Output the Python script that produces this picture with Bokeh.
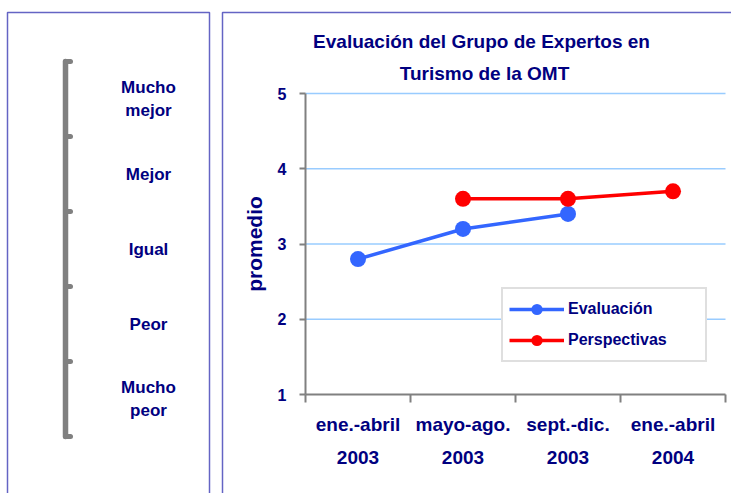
from bokeh.plotting import figure
from bokeh.models import Range1d, LinearAxis, FixedTicker, Legend, LegendItem
from bokeh.core.properties import value
from bokeh.embed import file_html
from bokeh.resources import INLINE

# ---------------- data ----------------
periods = ["ene.-abril\n2003", "mayo-ago.\n2003", "sept.-dic.\n2003", "ene.-abril\n2004"]
evaluacion_periods = ["ene.-abril\n2003", "mayo-ago.\n2003", "sept.-dic.\n2003"]
evaluacion = [2.8, 3.2, 3.4]
perspectivas_periods = ["mayo-ago.\n2003", "sept.-dic.\n2003", "ene.-abril\n2004"]
perspectivas = [3.6, 3.6, 3.7]
y_ticks = [1, 2, 3, 4, 5]
scale_labels = ["Mucho\nmejor", "Mejor", "Igual", "Peor", "Mucho\npeor"]
scale_levels = [4.5, 3.5, 2.5, 1.5, 0.5]
scale_marks = [0, 1, 2, 3, 4, 5]
title_lines = ["Evaluación del Grupo de Expertos en", "Turismo de la OMT"]
series_names = ["Evaluación", "Perspectivas"]

# ---------------- styling / layout (pixels) ----------------
FONT = "Liberation Sans"
NAVY = "#000080"
GRAY = "#808080"
BORDER = "#6464c4"
BLUE = "#3366ff"
RED = "#ff0000"
GRID = "#99ccff"
W, H = 731, 493
CH_L, CH_R, CH_T, CH_B = 305, 725, 93, 394      # chart plot area
SC_X, SC_TOP, SC_BOT, SC_LABEL_X = 65, 61, 436, 148  # scale panel

n = len(periods)
ppx = (CH_R - CH_L) / n
ppy = (CH_B - CH_T) / (y_ticks[-1] - y_ticks[0])
x_start = -CH_L / ppx
x_end = (W - CH_L) / ppx
y_end = y_ticks[-1] + CH_T / ppy
y_start = y_ticks[0] - (H - CH_B) / ppy


def px_x(px):
    return x_start + px / ppx


def px_y(py):
    return y_end - py / ppy


def scale_y(level):
    return px_y(SC_BOT - level * (SC_BOT - SC_TOP) / (len(scale_marks) - 1))


def cat_x(cat):
    return periods.index(cat) + 0.5


p = figure(width=W, height=H, x_range=Range1d(x_start, x_end), y_range=Range1d(y_start, y_end),
           output_backend="svg", toolbar_location=None, min_border=0,
           x_axis_location=None, y_axis_location=None)
p.grid.visible = False
p.outline_line_color = None
p.background_fill_color = "white"
p.border_fill_color = "white"

# ---------------- panel borders ----------------
p.line(x=[px_x(7), px_x(7), px_x(209), px_x(209)], y=[px_y(H + 5), px_y(12), px_y(12), px_y(H + 5)],
       line_color=BORDER, line_width=1.5)
p.line(x=[px_x(222), px_x(222), px_x(W + 5)], y=[px_y(H + 5), px_y(12), px_y(12)],
       line_color=BORDER, line_width=1.5)

# ---------------- left scale panel ----------------
p.segment(x0=px_x(SC_X), y0=scale_y(scale_marks[0]), x1=px_x(SC_X), y1=scale_y(scale_marks[-1]),
          line_width=5.5, line_color=GRAY, line_cap="round")
p.segment(x0=[px_x(SC_X)] * len(scale_marks), y0=[scale_y(m) for m in scale_marks],
          x1=[px_x(SC_X + 5)] * len(scale_marks), y1=[scale_y(m) for m in scale_marks],
          line_width=5, line_color=GRAY, line_cap="round")
p.text(x=[px_x(SC_LABEL_X)] * len(scale_labels), y=[scale_y(v) for v in scale_levels], text=scale_labels,
       text_align="center", text_baseline="middle", text_font=value(FONT),
       text_font_style="bold", text_font_size="17px", text_color=NAVY, text_line_height=1.2)

# ---------------- title ----------------
p.text(x=[px_x(481), px_x(484)], y=[px_y(41), px_y(73)], text=title_lines,
       text_align="center", text_baseline="middle", text_font=value(FONT),
       text_font_style="bold", text_font_size="19px", text_color=NAVY)

# ---------------- grid ----------------
p.segment(x0=0, x1=n, y0=y_ticks[1:], y1=y_ticks[1:], line_color=GRID, line_width=1.5)

# ---------------- axes ----------------
yax = LinearAxis(fixed_location=0, bounds=(y_ticks[0], y_ticks[-1]), ticker=FixedTicker(ticks=y_ticks),
                 axis_line_color=GRAY, axis_line_width=2,
                 major_tick_line_color=GRAY, major_tick_line_width=2,
                 major_tick_out=6, major_tick_in=0, minor_tick_line_color=None,
                 major_label_text_font=FONT, major_label_text_font_style="bold",
                 major_label_text_font_size="16px", major_label_text_color=NAVY,
                 major_label_standoff=13,
                 axis_label="promedio", axis_label_text_font=FONT,
                 axis_label_text_font_style="bold", axis_label_text_font_size="21px",
                 axis_label_text_color=NAVY, axis_label_standoff=9)
p.add_layout(yax, "left")

edge_axis = LinearAxis(fixed_location=y_ticks[0], bounds=(0, n),
                       ticker=FixedTicker(ticks=list(range(n + 1))),
                       axis_line_color=GRAY, axis_line_width=2,
                       major_tick_line_color=GRAY, major_tick_line_width=2,
                       major_tick_out=8, major_tick_in=0, minor_tick_line_color=None,
                       major_label_text_font_size="1px", major_label_text_color=None)
p.add_layout(edge_axis, "below")

label_ticks = [cat_x(c) for c in periods]
cat_axis = LinearAxis(fixed_location=y_ticks[0], ticker=FixedTicker(ticks=label_ticks),
                      major_label_overrides={t: c for t, c in zip(label_ticks, periods)},
                      axis_line_color=None, major_tick_line_color=None, minor_tick_line_color=None,
                      major_tick_out=0, major_tick_in=0,
                      major_label_text_font=FONT, major_label_text_font_style="bold",
                      major_label_text_font_size="19px", major_label_text_color=NAVY,
                      major_label_text_line_height=1.6, major_label_standoff=19)
p.add_layout(cat_axis, "below")

# ---------------- series ----------------
ex = [cat_x(c) for c in evaluacion_periods]
px_ = [cat_x(c) for c in perspectivas_periods]
r1 = p.line(ex, evaluacion, line_color=BLUE, line_width=3.5)
c1 = p.scatter(ex, evaluacion, size=16, fill_color=BLUE, line_color=None)
r2 = p.line(px_, perspectivas, line_color=RED, line_width=3.5)
c2 = p.scatter(px_, perspectivas, size=16, fill_color=RED, line_color=None)

legend = Legend(items=[LegendItem(label=series_names[0], renderers=[r1, c1]),
                       LegendItem(label=series_names[1], renderers=[r2, c2])],
                location=(501, H - 362), margin=0, padding=6, spacing=3,
                glyph_width=55, glyph_height=28, label_height=28, label_width=131,
                label_standoff=4,
                label_text_font=FONT, label_text_font_style="bold", label_text_font_size="16px",
                label_text_color=NAVY, border_line_color="#c0c0c0", border_line_width=2,
                background_fill_color="white", background_fill_alpha=1)
p.add_layout(legend, "center")

open("out.html", "w").write(file_html(p, INLINE))
